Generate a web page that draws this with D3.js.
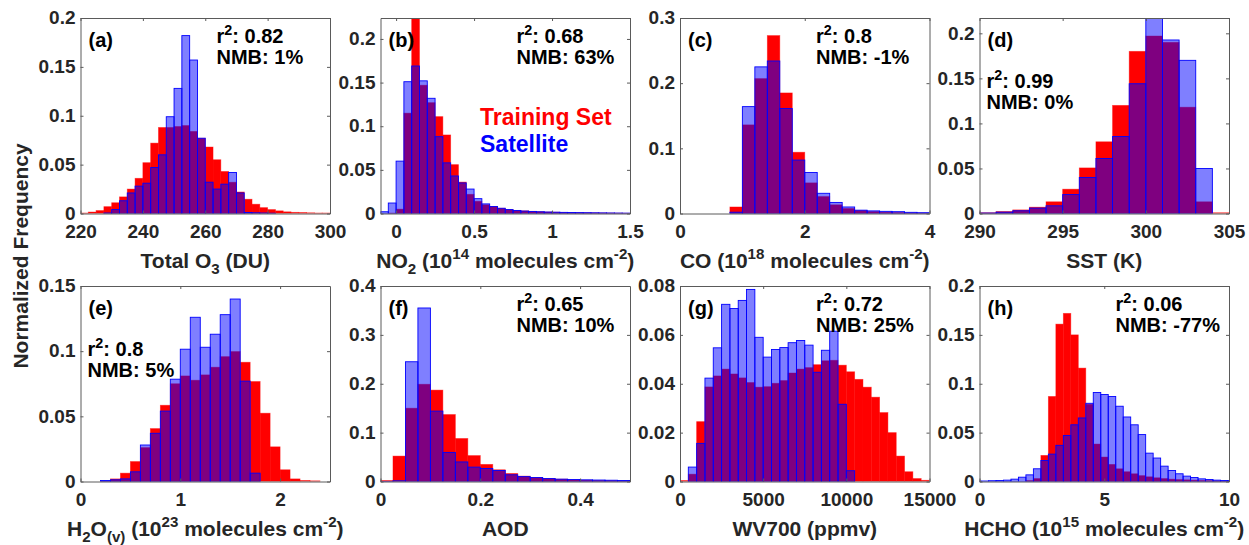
<!DOCTYPE html>
<html><head><meta charset="utf-8">
<script src="https://cdn.jsdelivr.net/npm/d3@7"></script>
<style>
body{margin:0;background:#fff}
svg{display:block}
text{font-family:"Liberation Sans",Arial,Helvetica,sans-serif;font-weight:bold;white-space:pre}
</style>
</head><body>
<svg id="chart" width="1249" height="545"></svg>
<script>
// ---------------- DATA ----------------
const seriesNames = ["Training Set", "Satellite"];

// (a) Total O3, bins from 220, width 2.5
const o3Bin = [220, 2.5];
const o3Train = [0.0005,0.0015,0.003,0.007,0.011,0.017,0.025,0.036,0.052,0.072,0.088,0.088,0.089,0.090,0.084,0.077,0.068,0.055,0.043,0.032,0.022,0.0146,0.0095,0.006,0.004,0.0027,0.0017,0.0012,0.001,0.0007,0.0005,0.0005];
const o3Sat   = [0,0,0,0.0005,0.004,0.013,0.021,0.028,0.031,0.047,0.060,0.099,0.128,0.182,0.157,0.077,0.032,0.025,0.030,0.042,0.021,0.001,0.0007,0.0005,0.0003,0,0,0,0,0,0,0];

// (b) NO2, bins from -0.1, width 0.05
const no2Bin = [-0.1, 0.05];
const no2Train = [0,0.0005,0.005,0.115,0.245,0.147,0.127,0.111,0.090,0.056,0.036,0.022,0.014,0.010,0.008,0.006,0.0045,0.0035,0.003,0.0025,0.002,0.0017,0.0015,0.0012,0.001,0.0009,0.0008,0.0007,0.0006,0.0005,0.0004,0.0003];
const no2Sat   = [0.002,0.012,0.060,0.151,0.169,0.152,0.132,0.088,0.058,0.043,0.035,0.028,0.017,0.011,0.008,0.006,0.0045,0.0035,0.0028,0.0023,0.002,0.0017,0.0015,0.0013,0.0012,0.001,0.0009,0.0008,0.0007,0.0006,0.0005,0.0004];

// (c) CO, bins from 0, width 0.2
const coBin = [0, 0.2];
const coTrain = [0,0,0,0,0.010,0.136,0.207,0.273,0.185,0.094,0.047,0.026,0.0133,0.0077,0.0046,0.003,0.002,0.0015,0.001,0.0007];
const coSat   = [0,0,0,0,0.002,0.164,0.225,0.234,0.161,0.082,0.063,0.031,0.017,0.010,0.0051,0.004,0.0033,0.0028,0.0018,0.0012];

// (d) SST, bins from 290, width 1
const sstBin = [290, 1];
const sstTrain = [0.0008,0.0022,0.004,0.007,0.013,0.027,0.0506,0.0796,0.120,0.180,0.197,0.190,0.118,0.013,0.0008];
const sstSat   = [0.0005,0.0015,0.003,0.006,0.0085,0.021,0.040,0.061,0.0855,0.144,0.225,0.1926,0.170,0.050,0];

// (e) H2O(v), bins from 0, width 0.1
const h2oBin = [0, 0.1];
const h2oTrain = [0,0,0.0003,0.002,0.0064,0.0153,0.026,0.0406,0.0585,0.075,0.081,0.0777,0.0818,0.0877,0.0958,0.0997,0.0915,0.0767,0.0524,0.0266,0.009,0.002,0.0008,0.0005,0];
const h2oSat   = [0,0,0.0008,0.0013,0.002,0.0074,0.028,0.037,0.054,0.0785,0.1015,0.126,0.103,0.113,0.128,0.140,0.077,0.0064,0,0,0,0,0,0,0];

// (f) AOD, bins from 0, width 0.025
const aodBin = [0, 0.025];
const aodTrain = [0.002,0.052,0.150,0.199,0.187,0.137,0.088,0.053,0.035,0.024,0.0164,0.011,0.008,0.006,0.0048,0.0034,0.0027,0.0022,0.0018,0.0015];
const aodSat   = [0.0002,0.0014,0.245,0.355,0.144,0.0595,0.040,0.0294,0.0267,0.0226,0.0137,0.010,0.0082,0.006,0.0048,0.004,0.0034,0.003,0.0026,0.002];

// (g) WV700, bins from 0, width 500
const wvBin = [0, 500];
const wvTrain = [0.0004,0.003,0.0245,0.0387,0.0432,0.046,0.044,0.0424,0.0405,0.0386,0.0388,0.0402,0.0413,0.0444,0.046,0.0466,0.0478,0.0494,0.0496,0.0476,0.0449,0.0418,0.0386,0.0345,0.0282,0.020,0.0104,0.004,0.0012,0.0005];
const wvSat   = [0,0.0059,0.0156,0.0423,0.0547,0.0725,0.0708,0.0741,0.0786,0.059,0.0509,0.054,0.0548,0.0568,0.0577,0.0558,0.0447,0.0537,0.0615,0.0316,0.0044,0,0,0,0,0,0,0,0,0];

// (h) HCHO, bins from -0.24, width 0.3
const hchoBin = [-0.24, 0.3];
const hchoTrain = [0,0,0,0,0,0,0,0.001,0.003,0.0267,0.087,0.161,0.172,0.150,0.116,0.079,0.0383,0.025,0.0175,0.013,0.010,0.0079,0.006,0.0048,0.0038,0.003,0.0024,0.002,0.0017,0.0014,0.0011,0.0009,0.0007,0.0005,0.0004];
const hchoSat   = [0.0003,0.0005,0.0008,0.001,0.0014,0.0024,0.0044,0.0068,0.013,0.0215,0.028,0.037,0.047,0.058,0.065,0.080,0.091,0.089,0.087,0.077,0.066,0.058,0.048,0.029,0.024,0.0157,0.0113,0.0079,0.0055,0.0041,0.0027,0.002,0.0014,0.001,0.0008];

// axis ranges and tick labels
const xDomains = [[220,300],[-0.1,1.5],[0,4],[290,305],[0,2.5],[0,0.5],[0,15000],[0,10]];
const yMaxes   = [0.2, 0.224, 0.3, 0.217, 0.15, 0.4, 0.08, 0.2];
const xTickVals = [[220,240,260,280,300],[0,0.5,1,1.5],[0,2,4],[290,295,300,305],[0,1,2],[0,0.2,0.4],[0,5000,10000,15000],[0,5,10]];
const yTickVals = [[0,0.05,0.1,0.15,0.2],[0,0.05,0.1,0.15,0.2],[0,0.1,0.2,0.3],[0,0.05,0.1,0.15,0.2],[0,0.05,0.1,0.15],[0,0.1,0.2,0.3,0.4],[0,0.02,0.04,0.06,0.08],[0,0.05,0.1,0.15,0.2]];

const panelTags = ["(a)","(b)","(c)","(d)","(e)","(f)","(g)","(h)"];
const r2Values  = ["0.82","0.68","0.8","0.99","0.8","0.65","0.72","0.06"];
const nmbValues = ["1%","63%","-1%","0%","5%","10%","25%","-77%"];
const xLabels = [
  [["Total O"],["3","sub"],[" (DU)"]],
  [["NO"],["2","sub"],[" (10"],["14","sup"],[" molecules cm"],["-2","sup"],[")"]],
  [["CO (10"],["18","sup"],[" molecules cm"],["-2","sup"],[")"]],
  [["SST (K)"]],
  [["H"],["2","sub"],["O"],["(v)","sub"],[" (10"],["23","sup"],[" molecules cm"],["-2","sup"],[")"]],
  [["AOD"]],
  [["WV700 (ppmv)"]],
  [["HCHO (10"],["15","sup"],[" molecules cm"],["-2","sup"],[")"]]
];
const yLabel = "Normalized Frequency";

const trainSets = [o3Train,no2Train,coTrain,sstTrain,h2oTrain,aodTrain,wvTrain,hchoTrain];
const satSets   = [o3Sat,no2Sat,coSat,sstSat,h2oSat,aodSat,wvSat,hchoSat];
const binDefs   = [o3Bin,no2Bin,coBin,sstBin,h2oBin,aodBin,wvBin,hchoBin];

// ---------------- LAYOUT ----------------
const colLeft = [80.5, 380.5, 680, 979.5];
const rowTop = [18, 286];
const pw = 249.5, ph = 195.5;
const RED = "#ff0000", BLUE = "#0000ff", TXT = "#262626", AX = "#5a5a5a";
const tickFs = 19, labFs = 21, annFs = 20;

const svg = d3.select("#chart");

function rich(sel, segs, fs){
  let off = 0;
  segs.forEach(([t,k])=>{
    const target = k==="sub" ? fs*0.3 : k==="sup" ? -fs*0.4 : 0;
    sel.append("tspan").attr("dy", target-off).attr("font-size", k ? fs*0.72 : fs).text(t);
    off = target;
  });
}

for (let p=0; p<8; p++){
  const left = colLeft[p%4], top = rowTop[Math.floor(p/4)];
  const x = d3.scaleLinear().domain(xDomains[p]).range([0,pw]);
  const y = d3.scaleLinear().domain([0,yMaxes[p]]).range([ph,0]);
  const g = svg.append("g").attr("transform",`translate(${left},${top})`);
  const cid = "clip"+p;
  g.append("clipPath").attr("id",cid).append("rect").attr("width",pw).attr("height",ph);
  const bars = g.append("g").attr("clip-path",`url(#${cid})`);
  const [b0,bw] = binDefs[p];
  const mk = (arr)=>arr.map((v,i)=>({x0:b0+i*bw, x1:b0+(i+1)*bw, v})).filter(d=>d.v>0);
  bars.selectAll("rect.tr").data(mk(trainSets[p])).join("rect").attr("class","tr")
    .attr("x",d=>x(d.x0)).attr("width",d=>x(d.x1)-x(d.x0))
    .attr("y",d=>y(d.v)).attr("height",d=>ph-y(d.v))
    .attr("fill",RED).attr("stroke",RED).attr("stroke-opacity",0.5).attr("stroke-width",0.8);
  bars.selectAll("rect.sa").data(mk(satSets[p])).join("rect").attr("class","sa")
    .attr("x",d=>x(d.x0)).attr("width",d=>x(d.x1)-x(d.x0))
    .attr("y",d=>y(d.v)).attr("height",d=>ph-y(d.v))
    .attr("fill",BLUE).attr("fill-opacity",0.5).attr("stroke",BLUE).attr("stroke-width",0.9);

  // axes (ticks inside, box)
  const style = (ax)=>{
    ax.select(".domain").attr("stroke",AX);
    ax.selectAll(".tick line").attr("stroke",AX);
    ax.selectAll("text").attr("fill",TXT).attr("font-size",tickFs)
      .attr("font-family",'"Liberation Sans",Arial,sans-serif').attr("font-weight","bold");
    ax.attr("font-size",null).attr("font-family",null);
  };
  const xa = g.append("g").attr("transform",`translate(0,${ph})`)
    .call(d3.axisBottom(x).tickValues(xTickVals[p]).tickFormat(d=>String(d)).tickSize(-3).tickSizeOuter(0).tickPadding(11));
  style(xa);
  g.append("g").call(d3.axisTop(x).tickValues(xTickVals[p]).tickFormat("").tickSize(-3).tickSizeOuter(0)).call(style);
  const ya = g.append("g")
    .call(d3.axisLeft(y).tickValues(yTickVals[p]).tickFormat(d=>String(d)).tickSize(-3).tickSizeOuter(0).tickPadding(5));
  style(ya);
  ya.selectAll(".tick text").attr("dy","0.3em");
  g.append("g").attr("transform",`translate(${pw},0)`)
    .call(d3.axisRight(y).tickValues(yTickVals[p]).tickFormat("").tickSize(-3).tickSizeOuter(0)).call(style);

  // x label
  const xl = g.append("text").attr("x",pw/2).attr("y",ph+54).attr("text-anchor","middle")
    .attr("fill",TXT).attr("font-size",labFs);
  rich(xl, xLabels[p], labFs);

  // panel tag and stats
  g.append("text").attr("x",8).attr("y",29).attr("font-size",annFs).attr("fill","#000").text(panelTags[p]);
  const leftStats = (p===3 || p===4);
  const sx = leftStats ? 7 : 136;
  const sy1 = leftStats ? 70 : 25, sy2 = leftStats ? 91 : 45.5;
  const r2t = g.append("text").attr("x",sx).attr("y",sy1).attr("font-size",annFs).attr("fill","#000");
  rich(r2t, [["r"],["2","sup"],[": "+r2Values[p]]], annFs);
  g.append("text").attr("x",sx).attr("y",sy2).attr("font-size",annFs).attr("fill","#000").text("NMB: "+nmbValues[p]);
}

// legend
svg.append("text").attr("x",480).attr("y",125).attr("font-size",23).attr("fill",RED).text(seriesNames[0]);
svg.append("text").attr("x",480).attr("y",152).attr("font-size",23).attr("fill",BLUE).text(seriesNames[1]);

// y label
svg.append("text").attr("transform","translate(28,256) rotate(-90)").attr("text-anchor","middle")
  .attr("font-size",labFs).attr("fill",TXT).text(yLabel);
</script>
</body></html>
